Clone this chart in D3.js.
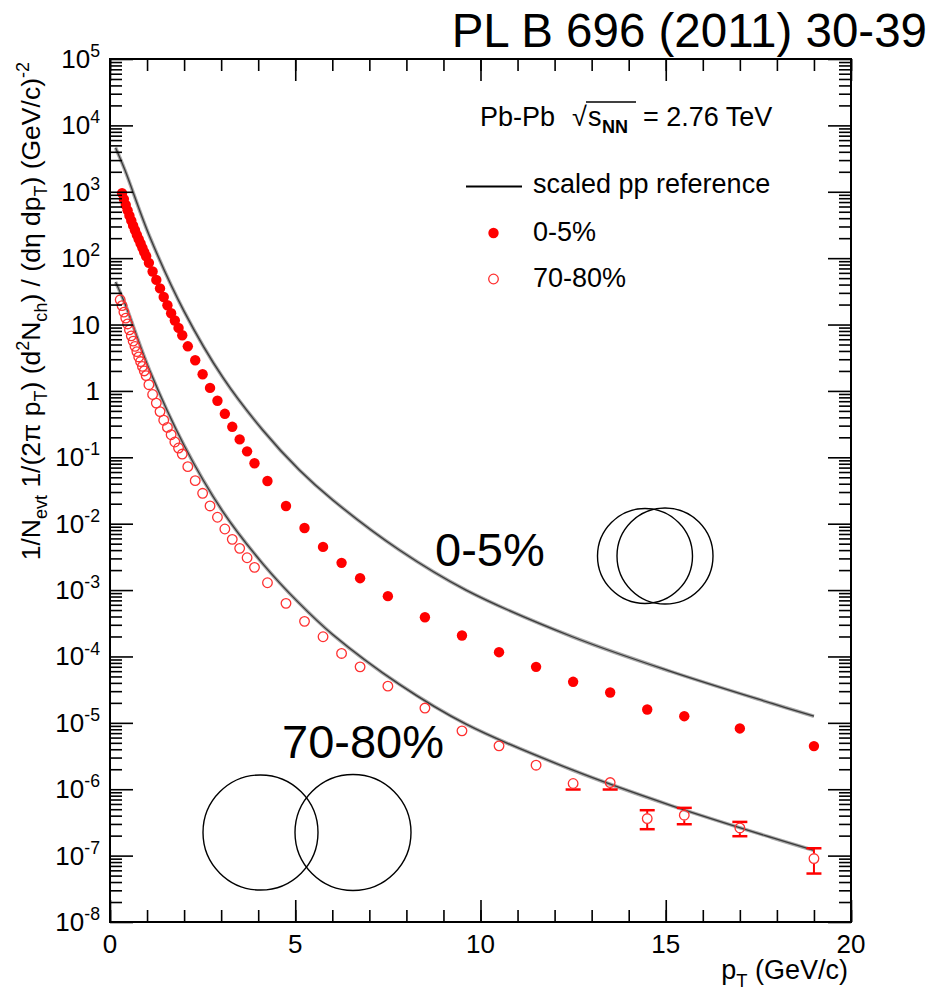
<!DOCTYPE html>
<html lang="en">
<head>
<meta charset="UTF-8">
<title>Charged particle pT spectra, Pb-Pb 2.76 TeV</title>
<script src="https://cdnjs.cloudflare.com/ajax/libs/d3/7.8.5/d3.min.js"></script>
<style>
  body { margin: 0; background: #fff; }
  svg text { font-family: "Liberation Sans", Arial, Helvetica, sans-serif; fill: #000; }
</style>
</head>
<body>
<script>
// 0-5% central, pT bin centres (GeV/c) and yields
var ptCentral = [0.325, 0.375, 0.425, 0.475, 0.525, 0.575, 0.625, 0.675, 0.725, 0.775, 0.825, 0.875, 0.925, 0.975,
                 1.05, 1.15, 1.25, 1.35, 1.45, 1.55, 1.65, 1.75, 1.85, 1.95,
                 2.1, 2.3, 2.5, 2.7, 2.9, 3.1, 3.3, 3.5, 3.7, 3.9,
                 4.25, 4.75, 5.25, 5.75, 6.25, 6.75, 7.5, 8.5, 9.5,
                 10.5, 11.5, 12.5, 13.5, 14.5, 15.5, 17, 19];
var yCentral = [955, 776, 631, 525, 437, 367, 309, 263, 224, 193, 166, 143, 123, 107,
                85, 63, 47, 35, 26, 19.5, 14.8, 11.5, 8.9, 6.9,
                4.7, 2.9, 1.78, 1.11, 0.71, 0.452, 0.288, 0.186, 0.123, 0.0813,
                0.044, 0.0185, 0.0086, 0.00447, 0.00257, 0.00151, 8.1e-4, 3.9e-4, 2.07e-4,
                1.16e-4, 6.98e-5, 4.15e-5, 2.87e-5, 1.59e-5, 1.26e-5, 8.24e-6, 4.46e-6];

// 70-80% peripheral
var ptPeriph = [0.275, 0.325, 0.375, 0.425, 0.475, 0.525, 0.575, 0.625, 0.675, 0.725, 0.775, 0.825, 0.875, 0.925, 0.975,
                1.05, 1.15, 1.25, 1.35, 1.45, 1.55, 1.65, 1.75, 1.85, 1.95,
                2.1, 2.3, 2.5, 2.7, 2.9, 3.1, 3.3, 3.5, 3.7, 3.9,
                4.25, 4.75, 5.25, 5.75, 6.25, 6.75, 7.5, 8.5, 9.5,
                10.5, 11.5, 12.5, 13.5, 14.5, 15.5, 17, 19];
var yPeriph = [23.6, 19.3, 15.4, 12.5, 10.2, 8.3, 6.76, 5.62, 4.69, 3.91, 3.25, 2.77, 2.34, 2.0, 1.7,
               1.24, 0.883, 0.656, 0.488, 0.362, 0.282, 0.219, 0.17, 0.138, 0.112,
               0.0723, 0.0445, 0.0287, 0.0185, 0.0125, 0.00832, 0.00581, 0.00425, 0.00307, 0.0022,
               0.00129, 6.31e-4, 3.38e-4, 1.98e-4, 1.11e-4, 6.98e-5, 3.57e-5, 1.67e-5, 7.57e-6,
               4.5e-6, 2.3e-6, 1.22e-6, 1.26e-6, 3.62e-7, 4.06e-7, 2.61e-7, 9.04e-8];

// visible error bars of the peripheral spectrum
var errPt = [12.5, 13.5, 14.5, 15.5, 17, 19];
var errVal = [1.22e-6, 1.26e-6, 3.62e-7, 4.06e-7, 2.61e-7, 9.04e-8];
var errLo = [9.9e-7, 9.9e-7, 2.5e-7, 2.97e-7, 1.96e-7, 5.37e-8];
var errHi = [1.22e-6, 1.26e-6, 4.83e-7, 5.24e-7, 3.22e-7, 1.29e-7];

// scaled pp reference curves
var ppPt = [0.15, 0.4, 1.07, 2.0, 3.05, 4.12, 5.11, 6.01, 7.81, 9.61, 12.48, 15.17, 17.87, 19.0];
var ppCentral = [4600, 2140, 212, 15.8, 1.58, 0.258, 0.0644, 0.0228, 0.00401, 1.0e-3, 1.98e-4, 5.86e-5, 1.96e-5, 1.26e-5];
var ppPeriph = [43.7, 20.9, 2.04, 0.151, 0.0151, 0.00251, 6.31e-4, 2.14e-4, 3.8e-5, 9.55e-6, 1.95e-6, 5.62e-7, 1.86e-7, 1.2e-7];

var xTicks = [0, 5, 10, 15, 20];
var yDecades = [5, 4, 3, 2, 1, 0, -1, -2, -3, -4, -5, -6, -7, -8];

var W = 930, H = 995;
var pLeft = 110, pRight = 851, pTop = 59, pBottom = 922;
var red = "#ff0000";

var svg = d3.select("body").append("svg")
    .attr("width", W)
    .attr("height", H);

var x = d3.scaleLinear().domain([0, 20]).range([pLeft, pRight]);
var y = d3.scaleLog().domain([1e-8, 1e5]).range([pBottom, pTop]);

// helper for text with sub/superscripts
function richText(sel, parts, size) {
    var shift = 0;
    parts.forEach(function(p) {
        var t = sel.append("tspan").text(p[0]);
        var want = p[1] === "sub" ? size * 0.28 : (p[1] === "sup" ? -size * 0.42 : 0);
        if (want !== shift) t.attr("dy", want - shift);
        if (p[1] !== "n") t.attr("font-size", size * 0.68);
        shift = want;
    });
}

// pp reference curves
var ppLine = function(vals) {
    return d3.line()
        .x(function(d, i) { return x(ppPt[i]); })
        .y(function(d) { return y(d); })
        .curve(d3.curveCatmullRom.alpha(0.5))(vals);
};
[ppCentral, ppPeriph].forEach(function(vals) {
    svg.append("path").attr("d", ppLine(vals))
        .attr("fill", "none").attr("stroke", "#a8a8a8").attr("stroke-width", 3.6);
    svg.append("path").attr("d", ppLine(vals))
        .attr("fill", "none").attr("stroke", "#3a3a3a").attr("stroke-width", 1.3);
});

// annotation labels and overlap sketches
svg.append("text").attr("x", 435).attr("y", 566).attr("font-size", 47).text("0-5%");
svg.append("text").attr("x", 282).attr("y", 758).attr("font-size", 47).text("70-80%");
[[645, 556, 47.5], [665, 556, 48], [260.5, 832.5, 57.5], [353, 832.5, 58]].forEach(function(c) {
    svg.append("circle").attr("cx", c[0]).attr("cy", c[1]).attr("r", c[2])
        .attr("fill", "none").attr("stroke", "#000").attr("stroke-width", 1.4);
});

// error bars (drawn outside the marker, with caps)
var rMark = 5.2;
errPt.forEach(function(p, i) {
    var cx = x(p), cy = y(errVal[i]);
    var yl = y(errLo[i]), yh = y(errHi[i]);
    if (yl - cy > rMark) {
        svg.append("line").attr("x1", cx).attr("x2", cx).attr("y1", cy + rMark).attr("y2", yl)
            .attr("stroke", red).attr("stroke-width", 2);
    }
    if (yl > cy) {
        svg.append("line").attr("x1", cx - 7.5).attr("x2", cx + 7.5).attr("y1", yl).attr("y2", yl)
            .attr("stroke", red).attr("stroke-width", 2.5);
    }
    if (cy - yh > rMark) {
        svg.append("line").attr("x1", cx).attr("x2", cx).attr("y1", cy - rMark).attr("y2", yh)
            .attr("stroke", red).attr("stroke-width", 2);
    }
    if (yh < cy) {
        svg.append("line").attr("x1", cx - 7.5).attr("x2", cx + 7.5).attr("y1", yh).attr("y2", yh)
            .attr("stroke", red).attr("stroke-width", 2.5);
    }
});

// markers
svg.append("g").selectAll("circle")
    .data(ptPeriph)
    .enter().append("circle")
    .attr("cx", function(d) { return x(d); })
    .attr("cy", function(d, i) { return y(yPeriph[i]); })
    .attr("r", 4.8)
    .attr("fill", "none")
    .attr("stroke", "#ff3030")
    .attr("stroke-width", 1.3);

svg.append("g").selectAll("circle")
    .data(ptCentral)
    .enter().append("circle")
    .attr("cx", function(d) { return x(d); })
    .attr("cy", function(d, i) { return y(yCentral[i]); })
    .attr("r", rMark)
    .attr("fill", red);

// axes: ticks inside the frame on all four sides
var yMajor = yDecades.map(function(e) { return Math.pow(10, e); });
var yMinor = [];
for (var e = -8; e < 5; e++) {
    for (var m = 2; m <= 9; m++) yMinor.push(m * Math.pow(10, e));
}
var xMinor = d3.range(0, 21);

function tickAxis(axis, tr) {
    var g = svg.append("g").attr("transform", tr).call(axis);
    g.select(".domain").remove();
    g.selectAll(".tick text").remove();
    g.selectAll(".tick line").attr("stroke", "#000").attr("stroke-width", 1.6);
}
tickAxis(d3.axisLeft(y).tickValues(yMajor).tickSize(-23), "translate(" + pLeft + ",0)");
tickAxis(d3.axisLeft(y).tickValues(yMinor).tickSize(-12), "translate(" + pLeft + ",0)");
tickAxis(d3.axisRight(y).tickValues(yMajor).tickSize(-23), "translate(" + pRight + ",0)");
tickAxis(d3.axisRight(y).tickValues(yMinor).tickSize(-12), "translate(" + pRight + ",0)");
tickAxis(d3.axisBottom(x).tickValues(xTicks).tickSize(-22), "translate(0," + pBottom + ")");
tickAxis(d3.axisBottom(x).tickValues(xMinor).tickSize(-12), "translate(0," + pBottom + ")");
tickAxis(d3.axisTop(x).tickValues(xTicks).tickSize(-22), "translate(0," + pTop + ")");
tickAxis(d3.axisTop(x).tickValues(xMinor).tickSize(-12), "translate(0," + pTop + ")");

svg.append("rect")
    .attr("x", pLeft).attr("y", pTop)
    .attr("width", pRight - pLeft).attr("height", pBottom - pTop)
    .attr("fill", "none").attr("stroke", "#000").attr("stroke-width", 2);

// tick labels
xTicks.forEach(function(v) {
    svg.append("text").attr("x", x(v)).attr("y", pBottom + 31)
        .attr("text-anchor", "middle").attr("font-size", 26).text(v);
});
yDecades.forEach(function(e) {
    var t = svg.append("text").attr("x", 100).attr("y", y(Math.pow(10, e)) + 9)
        .attr("text-anchor", "end").attr("font-size", 26);
    if (e === 0) richText(t, [["1", "n"]], 26);
    else if (e === 1) richText(t, [["10", "n"]], 26);
    else richText(t, [["10", "n"], [String(e), "sup"]], 26);
});

// axis titles
var xt = svg.append("text").attr("x", 848).attr("y", 979)
    .attr("text-anchor", "end").attr("font-size", 27);
richText(xt, [["p", "n"], ["T", "sub"], [" (GeV/c)", "n"]], 27);

var yt = svg.append("text").attr("transform", "translate(40," + (pTop + 3) + ") rotate(-90)")
    .attr("text-anchor", "end").attr("font-size", 26.5);
richText(yt, [["1/N", "n"], ["evt", "sub"], [" 1/(2\u03c0 p", "n"], ["T", "sub"], [")  (d", "n"], ["2", "sup"],
    ["N", "n"], ["ch", "sub"], [")  / (d\u03b7 dp", "n"], ["T", "sub"], [")  (GeV/c)", "n"], ["-2", "sup"]], 26.5);

// header
svg.append("text").attr("x", 927).attr("y", 47).attr("text-anchor", "end")
    .attr("font-size", 47.5).text("PL B 696 (2011) 30-39");

// legend
svg.append("text").attr("x", 480).attr("y", 126).attr("font-size", 27).text("Pb-Pb");
svg.append("text").attr("x", 572).attr("y", 126).attr("font-size", 27).text("\u221a");
svg.append("line").attr("x1", 586).attr("x2", 636).attr("y1", 102).attr("y2", 102)
    .attr("stroke", "#000").attr("stroke-width", 1.5);
svg.append("text").attr("x", 588).attr("y", 126).attr("font-size", 27).text("s");
svg.append("text").attr("x", 602).attr("y", 133).attr("font-size", 18).attr("font-weight", "bold").text("NN");
svg.append("text").attr("x", 643).attr("y", 126).attr("font-size", 27).text("= 2.76 TeV");

svg.append("line").attr("x1", 466).attr("x2", 522).attr("y1", 186.5).attr("y2", 186.5)
    .attr("stroke", "#000").attr("stroke-width", 2);
svg.append("text").attr("x", 533).attr("y", 193).attr("font-size", 27).text("scaled pp reference");
svg.append("circle").attr("cx", 493.5).attr("cy", 233).attr("r", rMark).attr("fill", red);
svg.append("text").attr("x", 533).attr("y", 241).attr("font-size", 27).text("0-5%");
svg.append("circle").attr("cx", 493.5).attr("cy", 279).attr("r", 4.8)
    .attr("fill", "none").attr("stroke", "#ff3030").attr("stroke-width", 1.3);
svg.append("text").attr("x", 533).attr("y", 287).attr("font-size", 27).text("70-80%");
</script>
</body>
</html>
